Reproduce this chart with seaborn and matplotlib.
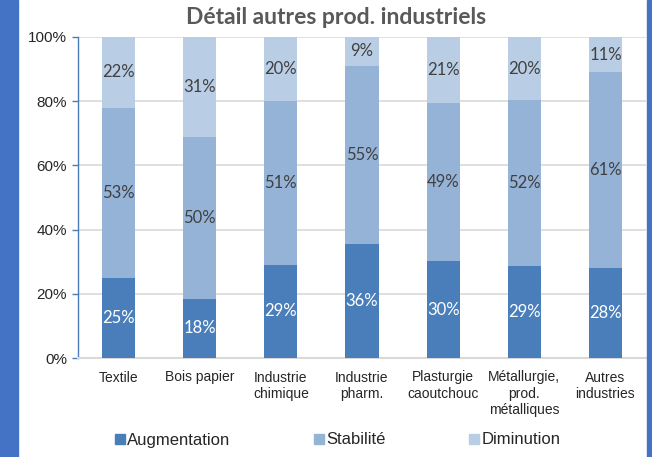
import matplotlib
matplotlib.use("Agg")
import matplotlib.pyplot as plt
import seaborn as sns
import pandas as pd
from matplotlib.patches import Rectangle
from matplotlib.lines import Line2D

categories = ["Textile", "Bois papier", "Industrie\nchimique", "Industrie\npharm.",
              "Plasturgie\ncaoutchouc", "Métallurgie,\nprod.\nmétalliques", "Autres\nindustries"]
augmentation = [25.0, 18.4, 29.0, 35.6, 30.2, 28.7, 28.0]
stabilite = [53.0, 50.4, 51.0, 55.4, 49.2, 51.6, 61.0]
diminution = [22.0, 31.2, 20.0, 9.0, 20.6, 19.7, 11.0]
series = ["Augmentation", "Stabilité", "Diminution"]
colors = ["#4A7EBB", "#95B3D7", "#B9CDE5"]

df = pd.DataFrame({"cat": categories, "Augmentation": augmentation,
                   "Stabilité": stabilite, "Diminution": diminution})
df["c1"] = df["Augmentation"]
df["c2"] = df["c1"] + df["Stabilité"]
df["c3"] = df["c2"] + df["Diminution"]

sns.set_style("white")
plt.rcParams["font.family"] = ["Liberation Sans", "DejaVu Sans"]

fig = plt.figure(figsize=(6.52, 4.57), dpi=100)
ax = fig.add_axes([78 / 652, 1 - 358 / 457, 568 / 652, 321 / 457])

# stacked bars drawn as overlaid cumulative totals
for col, color in zip(["c3", "c2", "c1"], colors[::-1]):
    sns.barplot(data=df, x="cat", y=col, color=color, width=0.41,
                saturation=1, ax=ax, zorder=3, linewidth=0)

lab_font = ["Lato", "DejaVu Sans"]
for i in range(len(categories)):
    starts = [0, df["c1"][i], df["c2"][i]]
    vals = [augmentation[i], stabilite[i], diminution[i]]
    for j, (s, v) in enumerate(zip(starts, vals)):
        ax.text(i, s + v / 2, f"{v:.0f}%", ha="center", va="center",
                fontsize=12, family=lab_font,
                color="white" if j == 0 else "#404040", zorder=5)

ax.set_ylim(0, 100)
ax.set_xlim(-0.5, len(categories) - 0.5)
ax.set_yticks(range(0, 101, 20))
ax.set_yticklabels([f"{t}%" for t in range(0, 101, 20)], fontsize=11)
ax.tick_params(axis="x", labelsize=10, length=0, pad=9)
ax.tick_params(axis="y", length=4, color="#4A7EBB", width=1, left=True, pad=4)
ax.set_xlabel("")
ax.set_ylabel("")
ax.yaxis.grid(True, color="#D9D9D9", linewidth=1.2, zorder=0)
ax.set_axisbelow(True)
for s in ["top", "right"]:
    ax.spines[s].set_visible(False)
ax.spines["left"].set_color("#4A7EBB")
ax.spines["left"].set_linewidth(1)
ax.spines["bottom"].set_color("#D9D9D9")
ax.spines["bottom"].set_linewidth(1.5)

fig.text(0.515, 1 - 18 / 457, "Détail autres prod. industriels", ha="center", va="center",
         fontsize=16.5, fontweight="bold", color="#595959", family=lab_font)

handles = [Line2D([], [], marker="s", linestyle="none", markersize=7,
                  markerfacecolor=c, markeredgecolor=c) for c in colors]
fig.legend(handles, series, loc="center", bbox_to_anchor=(0.518, 1 - 440 / 457),
           ncol=3, frameon=False, fontsize=12, columnspacing=5.0,
           handletextpad=0.15, handlelength=0.6)

fig.patches.append(Rectangle((0, 0), 18 / 652, 1, transform=fig.transFigure,
                             color="#4472C4", zorder=0))
fig.patches.append(Rectangle((647 / 652, 0), 5 / 652, 1, transform=fig.transFigure,
                             color="#4472C4", zorder=0))

fig.savefig("out.png", dpi=100)
